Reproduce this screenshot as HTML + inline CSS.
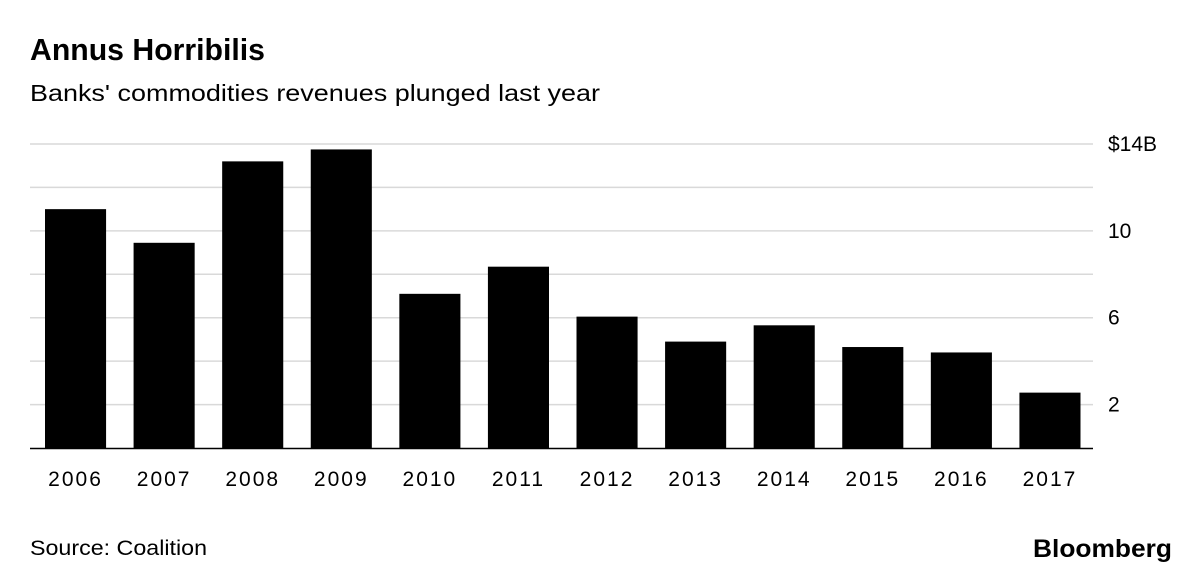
<!DOCTYPE html>
<html><head><meta charset="utf-8">
<style>
body{margin:0;background:#fff;width:1200px;height:575px;overflow:hidden;font-family:"Liberation Sans",sans-serif;}
svg{display:block}
</style></head>
<body>
<svg width="1200" height="575">
<text x="30" y="60" font-size="31" font-weight="bold" fill="#000" textLength="235" lengthAdjust="spacingAndGlyphs">Annus Horribilis</text>
<text x="30" y="101" font-size="23" fill="#000" textLength="570" lengthAdjust="spacingAndGlyphs">Banks' commodities revenues plunged last year</text>
<g id="grid"></g>
<g id="bars"></g>
<g id="xlabels"></g>
<line x1="30" x2="1093" y1="448.5" y2="448.5" stroke="#000" stroke-width="1.5"/>
<text x="30" y="555" font-size="21" fill="#000" textLength="177" lengthAdjust="spacingAndGlyphs">Source: Coalition</text>
<text x="1033" y="557" font-size="25" font-weight="bold" fill="#000" textLength="139" lengthAdjust="spacingAndGlyphs">Bloomberg</text>
</svg>
<script>
const categories=["2006","2007","2008","2009","2010","2011","2012","2013","2014","2015","2016","2017"];
const values=[11.0,9.45,13.2,13.75,7.1,8.35,6.05,4.9,5.65,4.65,4.4,2.55];
const gridValues=[2,4,6,8,10,12,14];
const tickLabels=["2","","6","","10","","$14B"];
const ns="http://www.w3.org/2000/svg";
const x0=30,x1=1093,yBase=448,yTop=144,vMax=14;
const band=(x1-x0)/categories.length;
function y(v){return yBase-(v/vMax)*(yBase-yTop);}
function bx(i){return x0+i*band+15;}
const bw=band-27.5;
const grid=document.getElementById('grid');
gridValues.forEach((v,i)=>{
  const l=document.createElementNS(ns,'line');
  l.setAttribute('x1',x0);l.setAttribute('x2',x1);
  l.setAttribute('y1',y(v));l.setAttribute('y2',y(v));
  l.setAttribute('stroke','#d9d9d9');l.setAttribute('stroke-width','1.5');
  
  
  grid.appendChild(l);
  if(tickLabels[i]){
    const t=document.createElementNS(ns,'text');
    t.setAttribute('x',1108);t.setAttribute('y',y(v)+7);
    t.setAttribute('font-size','21');t.textContent=tickLabels[i];
    
    
    grid.appendChild(t);
  }
});
const bars=document.getElementById('bars'),xl=document.getElementById('xlabels');
categories.forEach((c,i)=>{
  const r=document.createElementNS(ns,'rect');
  r.setAttribute('x',bx(i));r.setAttribute('width',bw);
  r.setAttribute('y',y(values[i]));r.setAttribute('height',yBase-y(values[i]));
  r.setAttribute('fill','#000');
  
  
  bars.appendChild(r);
  const t=document.createElementNS(ns,'text');
  t.setAttribute('x',bx(i)+bw/2);t.setAttribute('y',486);
  t.setAttribute('text-anchor','middle');t.setAttribute('font-size','21');
  t.setAttribute('letter-spacing','2');
  t.textContent=c;
  
  
  xl.appendChild(t);
});
</script>
</body></html>
